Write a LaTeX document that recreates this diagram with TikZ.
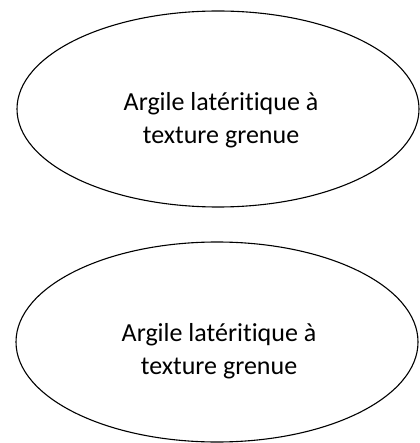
\documentclass[tikz,border=0pt]{standalone}
\usepackage{fontspec}
\setmainfont[Ligatures={NoCommon,NoRequired,NoContextual}]{Carlito}
\usetikzlibrary{shapes.geometric}
\begin{document}
\begin{tikzpicture}[x=1pt,y=-1pt,
  blob/.style={ellipse, draw=black, line width=1.1pt, inner sep=0pt},
  lbl/.style={align=center, font=\fontsize{26}{32.5}\selectfont, inner sep=0pt}]
\useasboundingbox (0,0) rectangle (419,443);
\node[blob, minimum width=402pt, minimum height=196pt] (e1) at (218,109) {};
\node[lbl] (t1) at (221,120) {Argile latéritique à\\texture grenue};
\node[blob, minimum width=402pt, minimum height=200pt] (e2) at (217,342) {};
\node[lbl] (t2) at (219,351) {Argile latéritique à\\texture grenue};
\end{tikzpicture}
\end{document}
